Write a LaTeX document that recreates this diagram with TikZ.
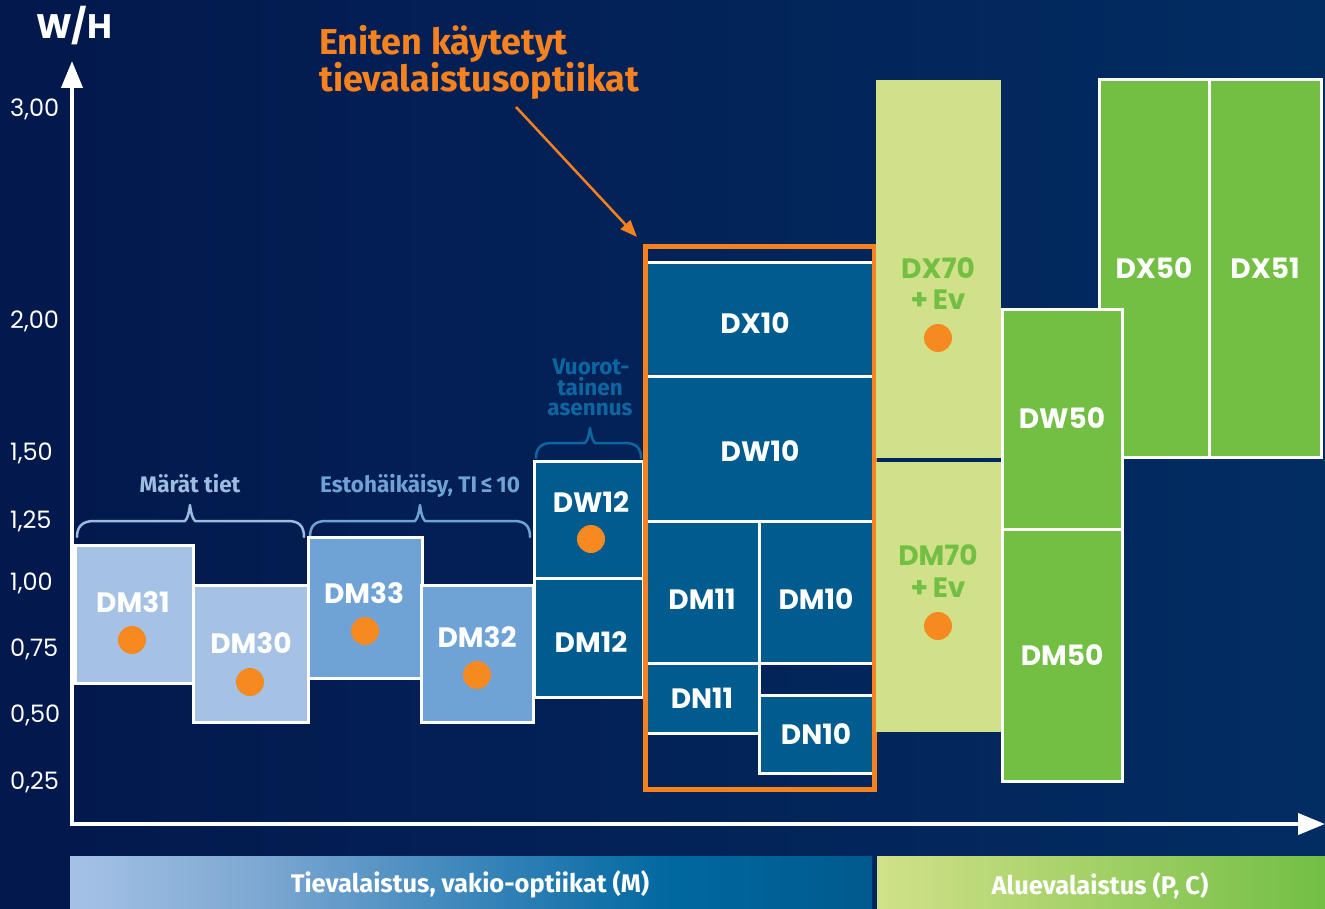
\documentclass[tikz,border=0pt]{standalone}
\usepackage{fontspec}
\setmainfont{Fira Sans}
\newfontfamily\pop{Poppins}
\usetikzlibrary{arrows.meta}
\definecolor{bgL}{HTML}{03184C}
\definecolor{bgR}{HTML}{022D63}
\definecolor{lblue}{HTML}{A5C2E5}
\definecolor{lbtext}{HTML}{9CBCE0}
\definecolor{mblue}{HTML}{6FA3D6}
\definecolor{dteal}{HTML}{005B8F}
\definecolor{vtext}{HTML}{0C67A0}
\definecolor{orng}{HTML}{F5821F}
\definecolor{dotc}{HTML}{F68A20}
\definecolor{pale}{HTML}{D1E189}
\definecolor{grn}{HTML}{72BF44}
\definecolor{barA}{HTML}{7AA6D1}
\definecolor{barB}{HTML}{3B86BB}
\definecolor{barC}{HTML}{00689F}
\definecolor{barD}{HTML}{005A8E}
\pgfdeclarehorizontalshading{mbar}{100bp}{color(0bp)=(lblue); color(25bp)=(lblue); color(37.5bp)=(barA); color(50bp)=(barB); color(62.5bp)=(barC); color(75bp)=(barD); color(100bp)=(barD)}
\newcommand\bx[6]{\node[box, fill=#6, minimum width={#4-#2}, minimum height={#5-#3}] (#1) at ({(#2+#4)/2},{(#3+#5)/2}) {};}
\begin{document}
\begin{tikzpicture}[x=1pt,y=-1pt,
  box/.style={draw=white, line width=3pt, inner sep=0, outer sep=0},
  lbl/.style={font=\pop\bfseries\fontsize{28}{28}\selectfont, text=white, inner sep=0},
  glbl/.style={lbl, text=grn},
  dot/.style={circle, fill=dotc, minimum size=28pt, inner sep=0},
  tick/.style={font=\pop\fontsize{24}{24}\selectfont, text=white, inner sep=0, anchor=base west},
  brace/.style={line width=2.5pt, line join=round, line cap=round},
  btxt/.style={font=\bfseries\fontsize{22.5}{22.5}\selectfont, inner sep=0, anchor=base},
  bartxt/.style={font=\bfseries\fontsize{25.5}{25.5}\selectfont, text=white, inner sep=0}]
\useasboundingbox (0,0) rectangle (1325,909);
\shade[left color=bgL, right color=bgR] (0,0) rectangle (1325,909);

% braces
\draw[brace, lbtext] (77,537) .. controls (77,526) and (83,521) .. (94,521) -- (185,521) .. controls (188,518) and (189,512) .. (190,505) .. controls (191,512) and (192,518) .. (195,521) -- (288,521) .. controls (299,521) and (304,526) .. (304,537);
\draw[brace, mblue] (310,537) .. controls (310,526) and (315,521) .. (326,521) -- (415,521) .. controls (418,518) and (419,512) .. (420,505) .. controls (421,512) and (422,518) .. (425,521) -- (514,521) .. controls (525,521) and (530,526) .. (530,537);
\draw[brace, vtext] (536,458) .. controls (536,448) and (541,443) .. (552,443) -- (585,443) .. controls (588,440) and (589,434) .. (590,428) .. controls (591,434) and (592,440) .. (595,443) -- (625,443) .. controls (636,443) and (641,448) .. (641,458);
\node[btxt, text=lbtext] (tm) at (190,492) {Märät tiet};
\node[btxt, text=mblue] (te) at (420,492) {Estohäikäisy, TI\,≤\,10};
\node[btxt, text=vtext] (v1) at (591,374) {Vuorot-};
\node[btxt, text=vtext] (v2) at (590,395) {tainen};
\node[btxt, text=vtext] (v3) at (590,415) {asennus};

% left boxes
\bx{dm31}{75}{545}{193}{683}{lblue}
\bx{dm30}{193}{585}{308}{722}{lblue}
\bx{dm33}{308}{537}{422}{678}{mblue}
\bx{dm32}{421}{585}{533}{722}{mblue}
\bx{dw12}{534}{461}{643}{578}{dteal}
\bx{dm12}{534}{578}{643}{697}{dteal}
\node[lbl] (l31) at (133,602) {DM31};
\node[dot] (d31) at (132,640) {};
\node[lbl] (l30) at (251,643) {DM30};
\node[dot] (d30) at (250,682) {};
\node[lbl] (l33) at (364,593) {DM33};
\node[dot] (d33) at (365,631) {};
\node[lbl] (l32) at (477,637) {DM32};
\node[dot] (d32) at (477,675) {};
\node[lbl] (lw12) at (591,502) {DW12};
\node[dot] (dw12d) at (591,539) {};
\node[lbl] (lm12) at (591,642) {DM12};

% highlighted group
\bx{dx10}{645}{263}{875}{376}{dteal}
\bx{dw10}{645}{376}{875}{521}{dteal}
\bx{dm11}{645}{521}{759}{663}{dteal}
\bx{dm10}{759}{521}{875}{663}{dteal}
\bx{dn11}{645}{663}{759}{733}{dteal}
\bx{dn10}{759}{695}{875}{773}{dteal}
\node[lbl] (lx10) at (755,323) {DX10};
\node[lbl] (lw10) at (760,451) {DW10};
\node[lbl] (lm11) at (702,599) {DM11};
\node[lbl] (lm10) at (816,599) {DM10};
\node[lbl] (ln11) at (702,698) {DN11};
\node[lbl] (ln10) at (816,734) {DN10};
\node[draw=orng, line width=5pt, minimum width=229, minimum height=543, inner sep=0] (hl) at (760,518) {};

% green group
\fill[pale] (876,80) rectangle (1001,458);
\fill[pale] (876,462) rectangle (1001,732);
\node[glbl] (lx70) at (938,268) {DX70};
\node[glbl] (ex70) at (938,300) {+\,Ev};
\node[dot] (dx70d) at (938,338) {};
\node[glbl] (lm70) at (938,555) {DM70};
\node[glbl] (em70) at (938,588) {+\,Ev};
\node[dot] (dm70d) at (938,626) {};
\bx{dx50}{1099}{80}{1209}{457}{grn}
\bx{dx51}{1209}{80}{1321}{457}{grn}
\bx{dw50}{1002}{310}{1122}{529}{grn}
\bx{dm50}{1002}{529}{1122}{781}{grn}
\node[lbl] (lx50) at (1154,268) {DX50};
\node[lbl] (lx51) at (1265,268) {DX51};
\node[lbl] (lw50) at (1062,418) {DW50};
\node[lbl] (lm50) at (1062,655) {DM50};

% title and arrow
\node[font=\bfseries\fontsize{36}{36}\selectfont, text=orng, inner sep=0, anchor=base west] (t1) at (319,55) {Eniten käytetyt};
\node[font=\bfseries\fontsize{36}{36}\selectfont, text=orng, inner sep=0, anchor=base west] (t2) at (319,92) {tievalaistusoptiikat};
\coordinate (aS) at (516,107);
\coordinate (aT) at (637,237);
\draw[orng, line width=2.5pt, -{Triangle[length=17pt,width=13pt]}] (aS) -- (aT);

% axes
\coordinate (ytop) at (72,61);
\coordinate (org) at (72,824);
\coordinate (xend) at (1325,824);
\draw[white, line width=4pt, {Triangle[length=27pt,width=21pt]}-{Triangle[length=27pt,width=21pt]}] (ytop) -- (org) -- (xend);
\node[font=\pop\bfseries\fontsize{34}{34}\selectfont, text=white, inner sep=0, anchor=base west] (wh) at (36,39) {W/H};
\node[tick] (k300) at (10,117) {3,00};
\node[tick] (k200) at (10,328) {2,00};
\node[tick] (k150) at (10,460) {1,50};
\node[tick] (k125) at (10,528) {1,25};
\node[tick] (k100) at (10,590) {1,00};
\node[tick] (k075) at (10,656) {0,75};
\node[tick] (k050) at (10,722) {0,50};
\node[tick] (k025) at (10,789) {0,25};

% bottom bars
\shade[shading=mbar] (70,856) rectangle (872,909);
\shade[left color=pale, right color=grn] (877,856) rectangle (1325,909);
\node[bartxt] (bm) at (470,884) {Tievalaistus, vakio-optiikat (M)};
\node[bartxt] (bp) at (1100,886) {Aluevalaistus (P, C)};
\end{tikzpicture}
\end{document}
